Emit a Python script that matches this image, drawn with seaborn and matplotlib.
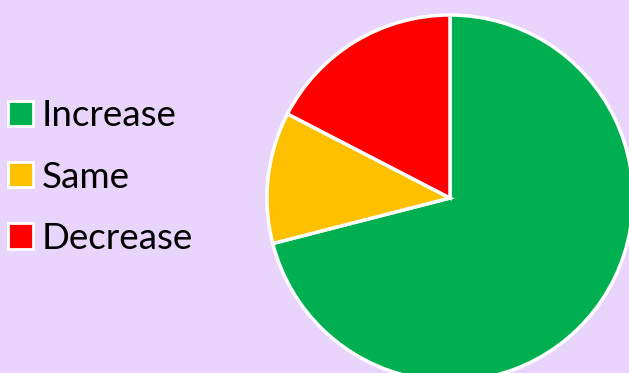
import matplotlib
matplotlib.use("Agg")
import matplotlib.pyplot as plt
import seaborn as sns
from matplotlib.patches import Patch

# Chart data
categories = ["Increase", "Same", "Decrease"]
shares = [71.0, 11.6, 17.4]
colors = ["#00B050", "#FFC000", "#FF0000"]
background = "#E9D5FB"

sns.set_theme(style="white")
plt.rcParams["font.family"] = ["Lato", "DejaVu Sans"]

fig = plt.figure(figsize=(6.29, 3.73), dpi=100, facecolor=background)
ax = fig.add_axes([0, 0, 1, 1])
ax.set_facecolor(background)

# pie in pixel units so it can run off the right and bottom edges
ax.pie(shares, colors=colors, startangle=90, counterclock=False,
       center=(450, 175), radius=183,
       wedgeprops=dict(edgecolor="white", linewidth=2.5))
ax.set_xlim(0, 629)
ax.set_ylim(0, 373)
ax.set_aspect("equal")
ax.axis("off")

handles = [Patch(facecolor=c, edgecolor="white", linewidth=2) for c in colors]
leg = fig.legend(handles, categories, loc="center left", bbox_to_anchor=(0.012, 0.525),
                 frameon=False, fontsize=26.5, handlelength=0.68, handleheight=0.68,
                 handletextpad=0.25, labelspacing=0.77, borderaxespad=0, borderpad=0)
for t in leg.get_texts():
    t.set_color("black")

fig.savefig("out.png", dpi=100, facecolor=background)
